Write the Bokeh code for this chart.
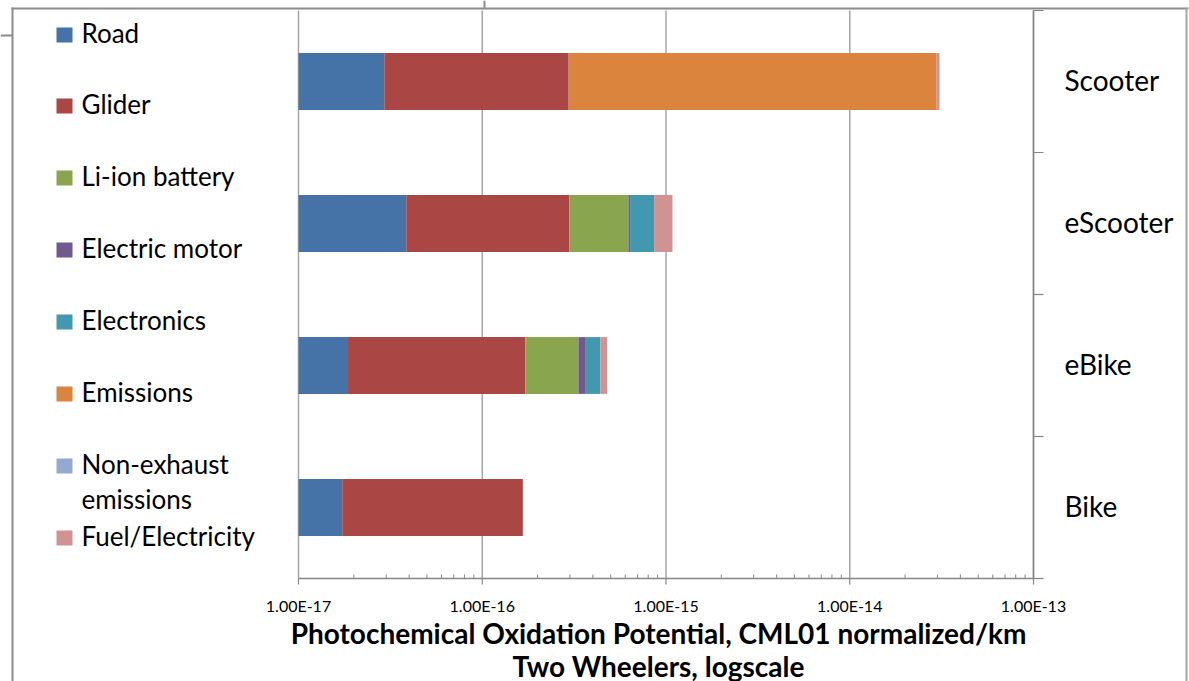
from bokeh.plotting import figure
from bokeh.models import ColumnDataSource, Label, BoxAnnotation, Range1d
from bokeh.core.properties import value
from bokeh.embed import file_html
from bokeh.resources import INLINE

# ---------------- data ----------------
categories = ["Bike", "eBike", "eScooter", "Scooter"]
series_names = ["Road", "Glider", "Li-ion battery", "Electric motor", "Electronics",
                "Emissions", "Non-exhaust emissions", "Fuel/Electricity"]
road = [1.73e-17, 1.86e-17, 3.86e-17, 2.93e-17]
glider = [1.49e-16, 1.53e-16, 2.59e-16, 2.66e-16]
li_ion = [0.0, 1.62e-16, 3.27e-16, 0.0]
motor = [0.0, 2.9e-17, 1.3e-17, 0.0]
electronics = [0.0, 7.7e-17, 2.24e-16, 0.0]
emissions = [0.0, 0.0, 0.0, 2.94e-14]
non_exhaust = [0.0, 0.0, 0.0, 0.0]
fuel = [0.0, 3.9e-17, 2.23e-16, 1.1e-15]
series_values = [road, glider, li_ion, motor, electronics, emissions, non_exhaust, fuel]
colors = ["#4572A7", "#AA4643", "#89A54E", "#71588F", "#4198AF", "#DB843D", "#93A9CF", "#D19392"]
x_ticks = [1e-17, 1e-16, 1e-15, 1e-14, 1e-13]
x_tick_labels = ["%.2E" % t for t in x_ticks]
x_title_1 = "Photochemical Oxidation Potential, CML01 normalized/km"
x_title_2 = "Two Wheelers, logscale"

# ---------------- layout (canvas pixels) ----------------
CW, CH = 1189, 681
PL, PR, PT, PB = 298, 1033, 10, 578       # plot-area edges on the canvas
n = len(categories)
dec_px = (PR - PL) / 4.0                   # pixels per decade
cat_px = (PB - PT) / float(n)              # pixels per category


def dx(cx):      # canvas x -> data x (log axis)
    return x_ticks[0] * 10 ** ((cx - PL) / dec_px)


def dy(cy):      # canvas y -> data y
    return (PB - cy) / cat_px


def sx(cx):      # canvas x -> screen x
    return cx


def sy(cy):      # canvas y -> screen y (bottom-up)
    return CH - cy


FONT = "Lato"
AX = "#868686"
GRID = "#A6A6A6"

p = figure(width=CW, height=CH, min_border=0,
           x_axis_type="log",
           x_range=Range1d(dx(0), dx(CW)), y_range=Range1d(dy(CH), dy(0)),
           x_axis_location=None, y_axis_location=None,
           output_backend="svg", toolbar_location=None)
p.outline_line_color = None
p.background_fill_color = "white"
p.border_fill_color = "white"
p.grid.visible = False

ys = [i + 0.5 for i in range(n)]

# gridlines (vertical, at decades)
p.segment(x0=x_ticks, x1=x_ticks, y0=[0] * len(x_ticks), y1=[n] * len(x_ticks),
          line_color=GRID, line_width=1.5)

# stacked bars
running = [0.0] * n
for name, vals, col in zip(series_names, series_values, colors):
    left = [max(r, x_ticks[0]) for r in running]
    running = [r + v for r, v in zip(running, vals)]
    right = [max(r, x_ticks[0]) for r in running]
    src = ColumnDataSource(dict(y=ys, left=left, right=right))
    p.hbar(y="y", left="left", right="right", height=0.4, source=src,
           fill_color=col, line_color=None)

# x axis: line, major ticks (out), minor ticks (in), labels
minor = [m * t for t in x_ticks[:-1] for m in range(2, 10)]
p.segment(x0=[x_ticks[0]], x1=[x_ticks[-1]], y0=[0], y1=[0], line_color=AX, line_width=1.5)
p.segment(x0=x_ticks, x1=x_ticks, y0=[0] * len(x_ticks), y1=[dy(PB + 6)] * len(x_ticks),
          line_color=AX, line_width=1.2)
p.segment(x0=minor, x1=minor, y0=[0] * len(minor), y1=[dy(PB - 4)] * len(minor),
          line_color=AX, line_width=1)
p.text(x=x_ticks, y=[dy(605)] * len(x_ticks), text=x_tick_labels,
       text_font=value(FONT), text_font_size=value("16px"), text_color="#000000",
       text_align="center", text_baseline="middle")

# right (category) axis: line + ticks at category boundaries, labels at centres
bounds = list(range(n + 1))
p.segment(x0=[x_ticks[-1]], x1=[x_ticks[-1]], y0=[0], y1=[n], line_color=AX, line_width=1.5)
p.segment(x0=[x_ticks[-1]] * len(bounds), x1=[dx(PR + 10)] * len(bounds), y0=bounds, y1=bounds,
          line_color=AX, line_width=1.2)
p.text(x=[dx(1064)] * n, y=[y + dy(PB - 2) for y in ys], text=categories, text_font=value(FONT),
       text_font_size=value("28px"), text_color="#000000",
       text_align="left", text_baseline="middle")

# legend (Excel-like, on the left)
legend_y = [34, 105, 177, 249, 321, 393, 465, 537]
for name, col, yy in zip(series_names, colors, legend_y):
    p.add_layout(BoxAnnotation(left=sx(56), right=sx(72), top=sy(yy - 7), bottom=sy(yy + 8),
                               left_units="screen", right_units="screen",
                               top_units="screen", bottom_units="screen",
                               fill_color=col, fill_alpha=1.0, line_color=None))
    lines = ["Non-exhaust", "emissions"] if name == "Non-exhaust emissions" else [name]
    for k, t in enumerate(lines):
        p.add_layout(Label(x=sx(81), y=sy(yy - 2 + 35 * k), x_units="screen", y_units="screen",
                           text=t, text_font=FONT, text_font_size="26px",
                           text_baseline="middle", text_align="left", text_color="#000000"))

# axis titles
for t, yy in ((x_title_1, 632), (x_title_2, 665)):
    p.add_layout(Label(x=sx(658), y=sy(yy), x_units="screen", y_units="screen", text=t,
                       text_font=FONT, text_font_size="28px", text_font_style="bold",
                       text_align="center", text_baseline="middle", text_color="#000000"))


# chart-area border lines (cropped Excel frame)
def bar_px(x0, x1, y0, y1, color):
    p.add_layout(BoxAnnotation(left=sx(x0), right=sx(x1), top=sy(y0), bottom=sy(y1),
                               left_units="screen", right_units="screen",
                               top_units="screen", bottom_units="screen",
                               fill_color=color, fill_alpha=1.0, line_color=None))


bar_px(11, 1188, 7, 9, "#8C8C8C")      # top border
bar_px(11, 13, 7, 681, "#8C8C8C")      # left border
bar_px(1185, 1187, 7, 681, "#A6A6A6")  # right border
bar_px(483, 485, 0, 8, "#8C8C8C")      # small vertical stub
bar_px(0, 12, 34, 36, "#8C8C8C")       # small horizontal stub

open("out.html", "w").write(file_html(p, INLINE))
